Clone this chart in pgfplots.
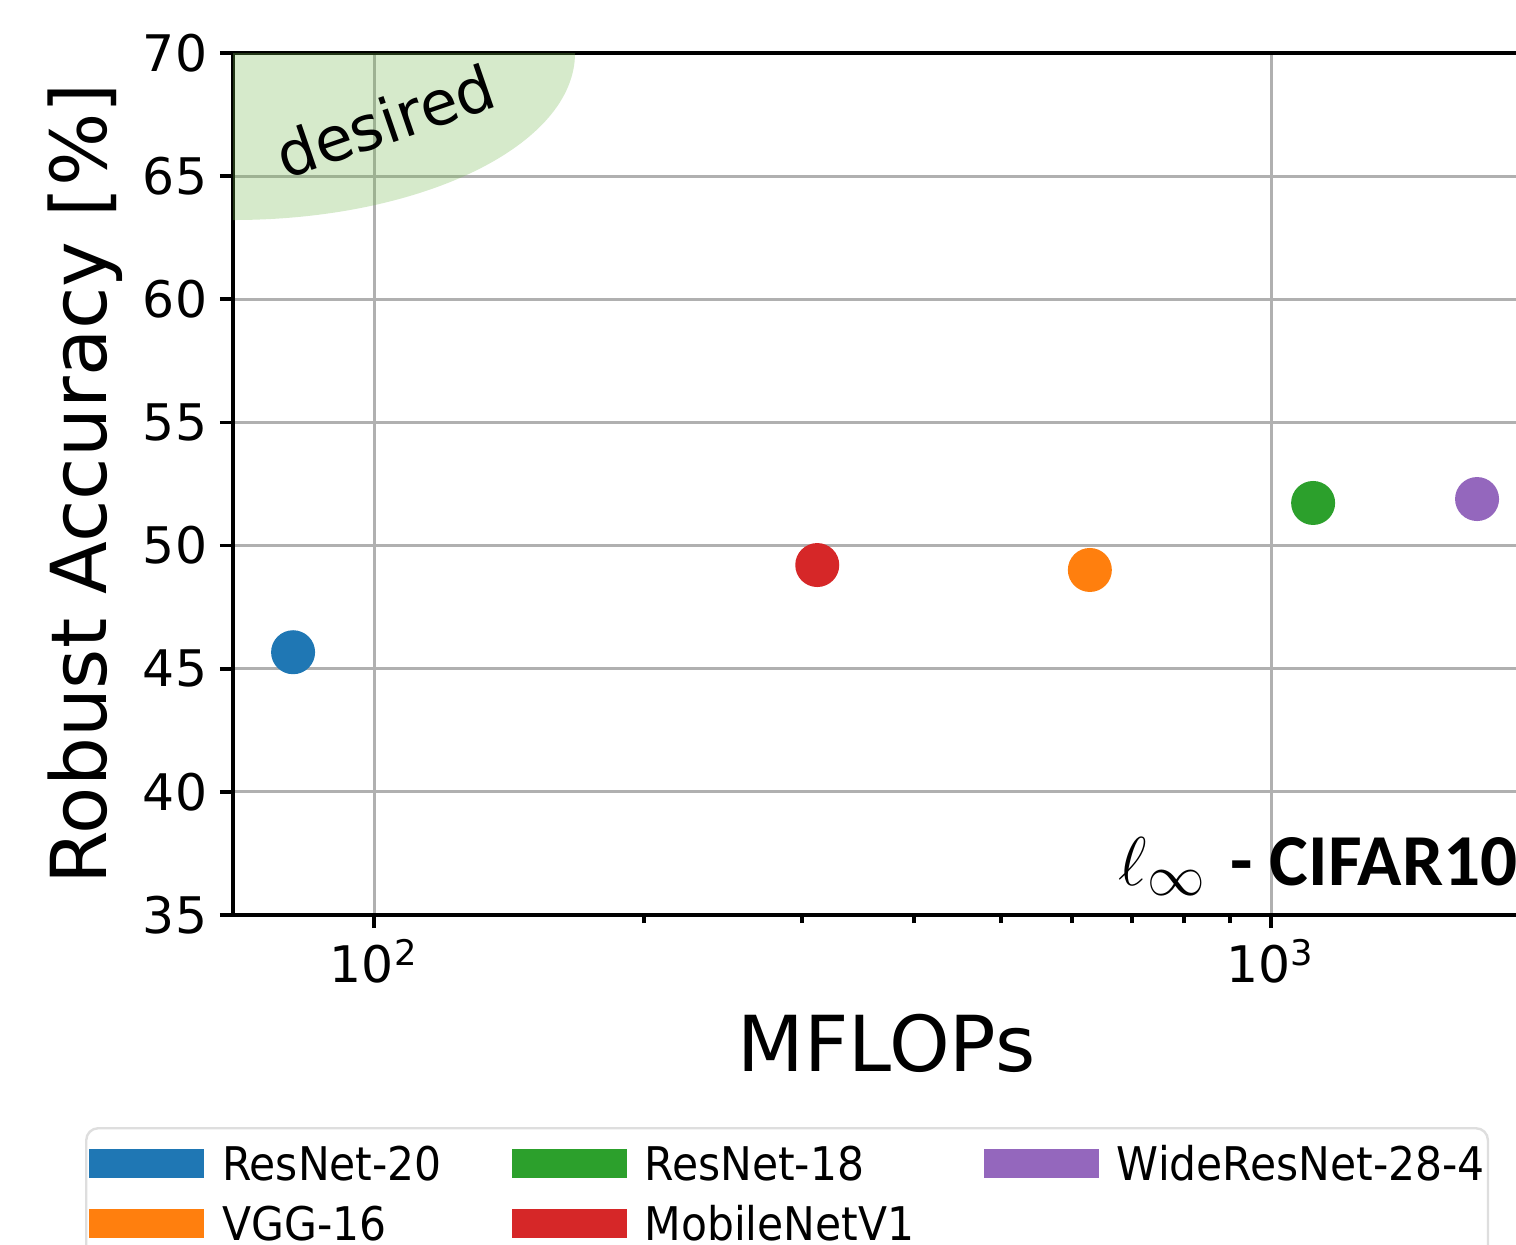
\documentclass[border=0pt]{standalone}
\usepackage{pgfplots}
\pgfplotsset{compat=1.18}
\usepackage{fontspec}
\setmainfont{DejaVu Sans}
\newfontfamily\legendfont{DejaVu Sans}[FakeStretch=0.915]
\newfontfamily\carlito{Carlito}
\definecolor{c1}{HTML}{1F77B4}
\definecolor{c2}{HTML}{FF7F0E}
\definecolor{c3}{HTML}{2CA02C}
\definecolor{c4}{HTML}{D62728}
\definecolor{c5}{HTML}{9467BD}
\definecolor{desiredgreen}{RGB}{118,185,82}
\definecolor{gridgray}{RGB}{176,176,176}
\begin{document}
\begin{tikzpicture}
\begin{axis}[
  xmode=log,
  scale only axis,
  width=327pt, height=215.5pt,
  xmin=69.6, xmax=2000,
  ymin=35, ymax=70,
  ytick={35,40,45,50,55,60,65,70},
  xtick={100,1000},
  xticklabels={10\textsuperscript{2},10\textsuperscript{3}},
  xmajorgrids, ymajorgrids,
  major grid style={gridgray, line width=0.75pt},
  tick align=outside,
  xtick pos=bottom, ytick pos=left,
  major tick length=3.3pt, minor tick length=2pt,
  every tick/.style={black, line width=0.9pt},
  axis line style={line width=1pt},
  /pgf/number format/assume math mode=true,
  ticklabel style={font=\fontsize{12.6}{15}\selectfont},
  yticklabel style={anchor=east, inner sep=0pt, xshift=-3pt},
  xticklabel style={anchor=north, inner sep=0pt, yshift=-2.5pt},
  every axis y label/.style={at={(rel axis cs:-0.0971,0.5)}, rotate=90, anchor=base},
  every axis x label/.style={at={(rel axis cs:0.4996,-0.18097)}, anchor=base},
  ylabel={\fontsize{19.3}{23}\selectfont Robust Accuracy [\%]},
  xlabel={\fontsize{19.3}{23}\selectfont MFLOPs},
  legend image code/.code={\fill[#1, sharp corners] (0pt,-3.625pt) rectangle (28.75pt,3.625pt);},
  legend columns=3,
  legend cell align=left,
  legend style={
    at={(rel axis cs:-0.11315,-0.24594)}, anchor=north west,
    draw=black!13, line width=0.6pt, rounded corners=3pt, fill=white,
    inner xsep=0.75pt, inner ysep=2.65pt,
    font=\fontsize{11.6}{14}\legendfont,
    nodes={inner sep=0pt, text height=10.46pt, text depth=2pt},
    row sep=2.54pt,
    /tikz/every odd column/.append style={column sep=4.5pt},
    /tikz/every even column/.append style={column sep=17.4pt},
  },
]
\addplot[only marks, mark=*, mark size=5.3pt, color=c1, mark options={draw=none, fill=c1}, forget plot] coordinates {(81.2,45.67)};
\addplot[only marks, mark=*, mark size=5.3pt, color=c4, mark options={draw=none, fill=c4}, forget plot] coordinates {(311.9,49.21)};
\addplot[only marks, mark=*, mark size=5.3pt, color=c2, mark options={draw=none, fill=c2}, forget plot] coordinates {(628,49.01)};
\addplot[only marks, mark=*, mark size=5.3pt, color=c3, mark options={draw=none, fill=c3}, forget plot] coordinates {(1114,51.73)};
\addplot[only marks, mark=*, mark size=5.3pt, color=c5, mark options={draw=none, fill=c5}, forget plot] coordinates {(1697,51.89)};

\addlegendimage{fill=c1, draw=none}
\addlegendentry{ResNet-20}
\addlegendimage{fill=c3, draw=none}
\addlegendentry{ResNet-18}
\addlegendimage{fill=c5, draw=none}
\addlegendentry{WideResNet-28-4}
\addlegendimage{fill=c2, draw=none}
\addlegendentry{VGG-16}
\addlegendimage{fill=c4, draw=none}
\addlegendentry{MobileNetV1}

\begin{scope}
  \clip (rel axis cs:0,0) rectangle (rel axis cs:1,1);
  \fill[desiredgreen, fill opacity=0.3] (rel axis cs:0,1) ellipse [x radius=85.5pt, y radius=41.75pt];
\end{scope}
\node[rotate=19, anchor=center, font=\fontsize{15.4}{18}\selectfont] at (rel axis cs:0.1162,0.9211) {desired};
\node[anchor=base west, inner sep=0pt, font=\fontsize{19}{23}\selectfont] at (rel axis cs:0.6766,0.0348) {$\ell_\infty$ {\carlito\bfseries\fontsize{18.3}{22}\selectfont - CIFAR10}};
\end{axis}
\pgfresetboundingbox
\useasboundingbox (-58.25pt,-82.25pt) rectangle (320.75pt,228.75pt);
\end{tikzpicture}
\end{document}
